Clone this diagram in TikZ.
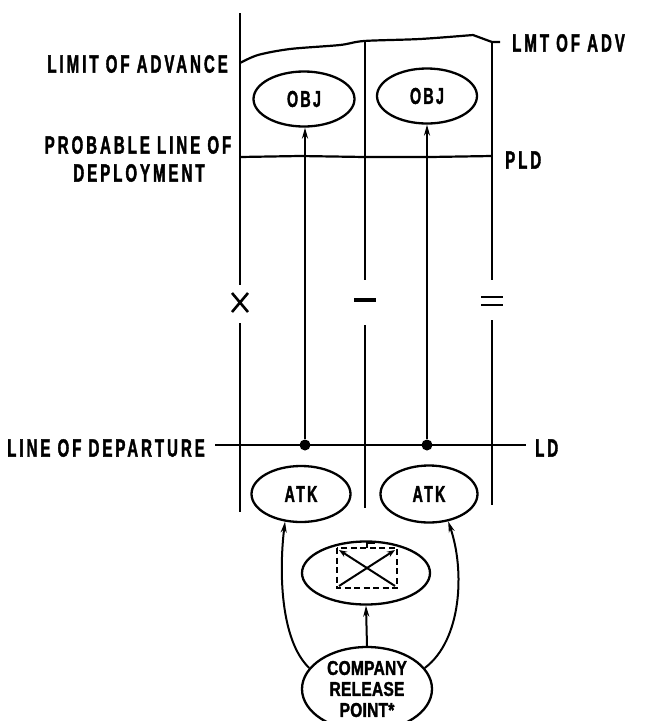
\documentclass[tikz,border=0pt]{standalone}
\usepackage{fontspec}
\usetikzlibrary{shapes.geometric,arrows.meta}
\newfontfamily\lblf{Liberation Sans}[UprightFont={* Bold},FakeStretch=0.6,LetterSpace=12,FakeBold=1.5]
\newfontfamily\ovf{Liberation Sans}[UprightFont={* Bold},FakeStretch=0.62,LetterSpace=10,FakeBold=1.5]
\newfontfamily\crpf{Liberation Sans}[UprightFont={* Bold},FakeStretch=0.78,LetterSpace=1,FakeBold=1.5]
\begin{document}
\begin{tikzpicture}[x=1pt,y=-1pt,
  ln/.style={line width=2.2pt},
  arr/.style={line width=2pt,-{Stealth[length=11pt,width=6pt]}},
  lbl/.style={font=\lblf\fontsize{25}{26}\selectfont,inner sep=0pt},
  oval/.style={draw,ellipse,line width=2.3pt,inner sep=0pt,font=\ovf\fontsize{23}{23}\selectfont},
  dotnode/.style={circle,fill,inner sep=0pt,minimum size=11pt}
]
\useasboundingbox[fill=white] (0,0) rectangle (645,721);

% labels
\node[lbl,anchor=east] (loa) at (228,64) {LIMIT OF ADVANCE};
\node[lbl] (pl1) at (138,145) {PROBABLE LINE OF};
\node[lbl] (pl2) at (139,173) {DEPLOYMENT};
\node[lbl,anchor=east] (lod) at (205,448) {LINE OF DEPARTURE};
\node[lbl,anchor=west] (lmt) at (512,43) {LMT OF ADV};
\node[lbl,anchor=west] (pld) at (505,160) {PLD};
\node[lbl,anchor=west] (ldl) at (535,448) {LD};

% boundaries
\draw[ln] (240,13) -- (240,285);
\draw[ln] (240,323) -- (240,512);
\draw[ln] (365,41) -- (365,280);
\draw[ln] (365,325) -- (365,508);
\draw[ln] (492,42) -- (492,280);
\draw[ln] (492,320) -- (492,505);

% boundary marks
\draw[line width=2.6pt] (232,293) -- (248,312) (248,293) -- (232,312);
\draw[line width=3.2pt] (354,300) -- (376,300);
\draw[line width=2.8pt] (481,297) -- (503,297) (481,305) -- (503,305);

% limit of advance
\draw[ln] plot[smooth] coordinates {(240,63) (258,55) (290,49) (340,45) (364,41) (420,39) (473,35)} -- (492,42) -- (500,42);
% PLD
\draw[ln] (240,157) -- (300,156) -- (365,157) -- (430,157) -- (492,156);
% LD
\draw[ln] (215,445) -- (526,445);

% nodes
\node[oval,minimum width=101pt,minimum height=55pt] (obj1) at (304,99) {OBJ};
\node[oval,minimum width=100pt,minimum height=55pt] (obj2) at (427,96) {OBJ};
\node[oval,minimum width=99pt,minimum height=56pt] (atk1) at (301,494) {ATK};
\node[oval,minimum width=97pt,minimum height=57pt] (atk2) at (429,494) {ATK};
\node[oval,minimum width=128pt,minimum height=63pt] (hq) at (366,573) {};
\node[oval,minimum width=130pt,minimum height=84pt,align=center,font=\crpf\fontsize{20}{21}\selectfont] (crp) at (367,689) {COMPANY\\RELEASE\\POINT*};

\node[dotnode] (d1) at (305,445) {};
\node[dotnode] (d2) at (427,445) {};

% arrows
\draw[arr] (d1) -- (d1 |- obj1.south);
\draw[arr] (d2) -- (d2 |- obj2.south);
\draw[arr] (crp.north) -- (hq.south);
\draw[arr] (crp.160) .. controls (280,640) and (279,570) .. (atk1.240);
\draw[arr] (crp.20) .. controls (462,640) and (465,570) .. (atk2.305);

% HQ symbol
\draw[line width=2.2pt,dash pattern=on 6pt off 3.5pt] (337,548) rectangle (397,588);
\draw[line width=2pt,-{Stealth[length=8pt,width=6pt]}] (339,586) -- (395,550);
\draw[line width=2pt,-{Stealth[length=8pt,width=6pt]}] (395,586) -- (339,550);
\draw[line width=2pt] (367,548) -- (367,543) -- (375,543);
\end{tikzpicture}
\end{document}
